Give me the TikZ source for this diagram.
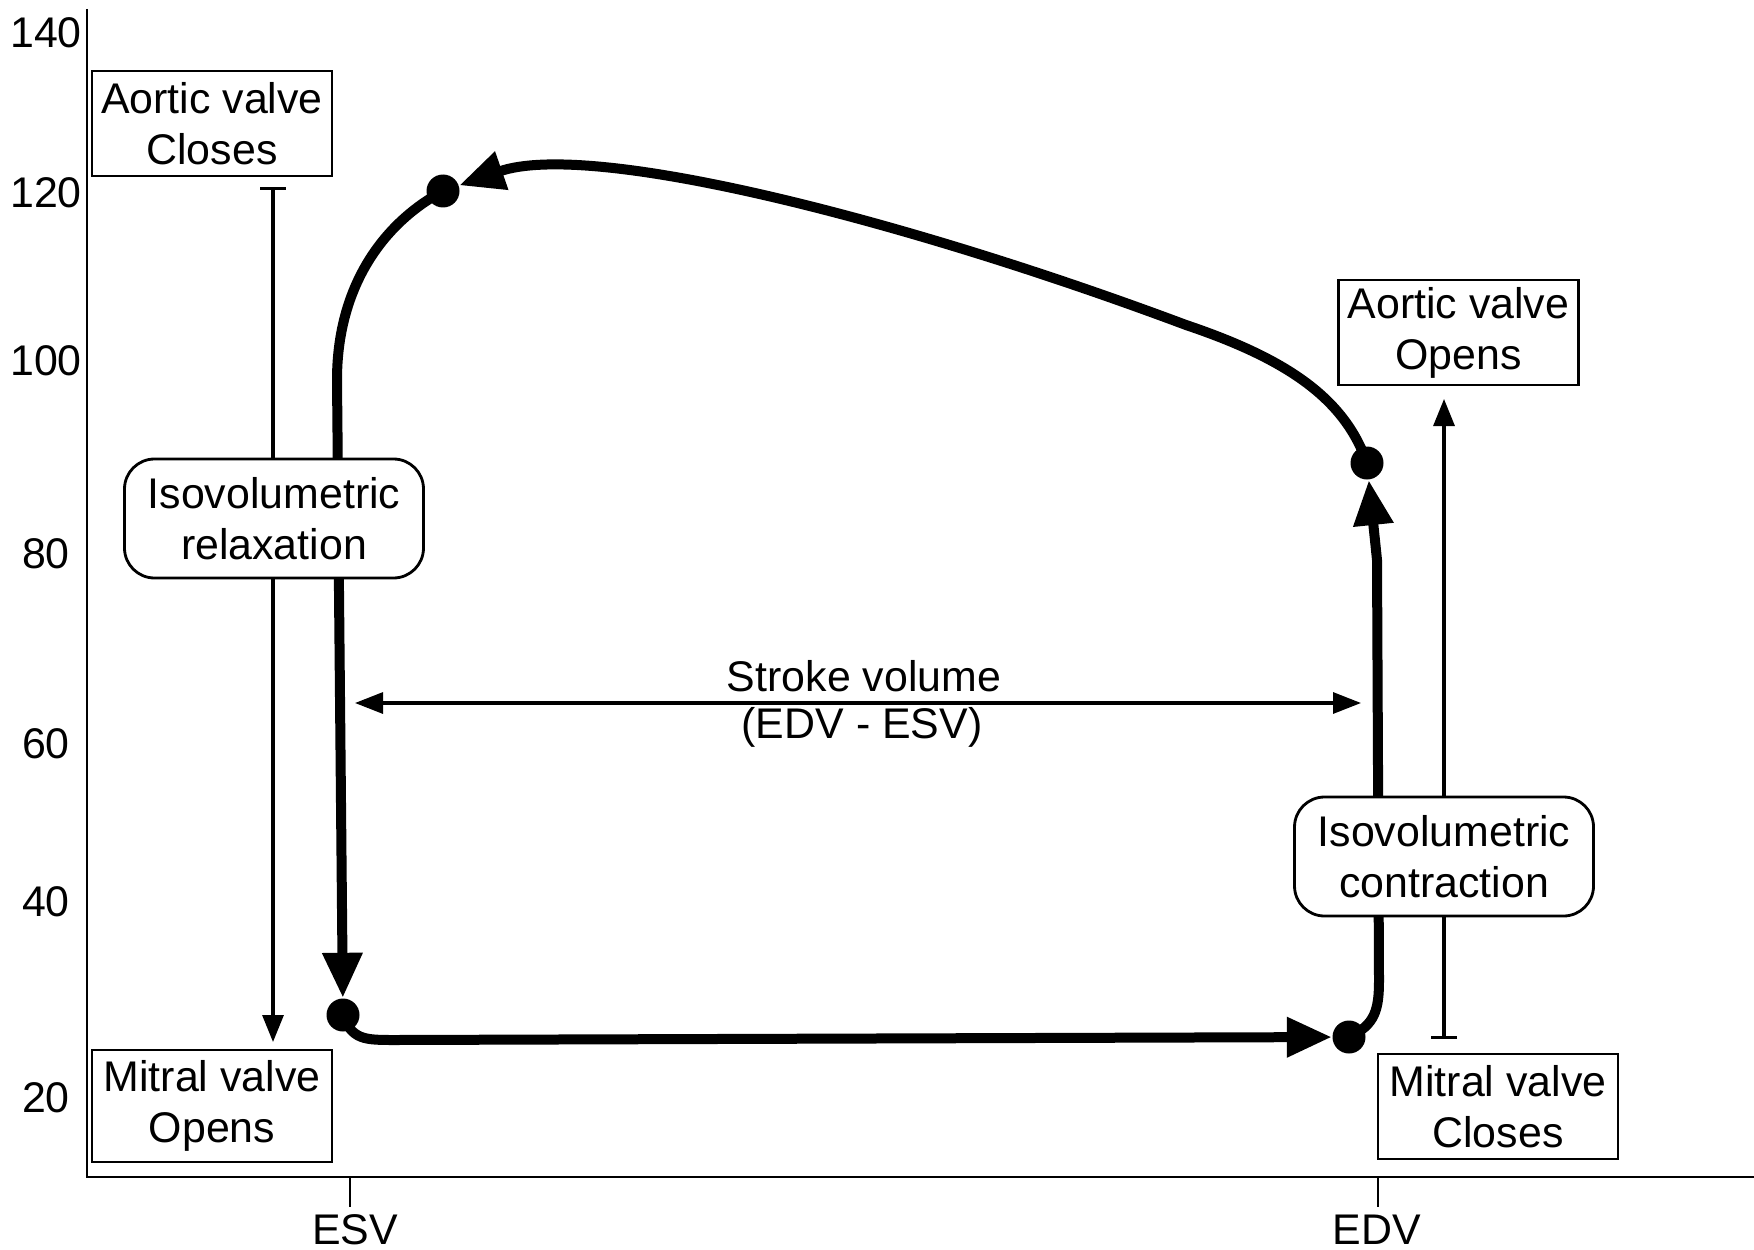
\documentclass[tikz,border=0pt]{standalone}
\usepackage{fontspec}
\setmainfont{Liberation Sans}
\usetikzlibrary{%
  arrows.meta,%
  positioning%
}

\begin{document}
\begin{tikzpicture}
[x=0.1mm, y=-0.1mm, font=\fontsize{12.2}{14.5}\selectfont,
loop/.style={line width=1mm},
bighead/.style={-{Triangle[length=4.5mm,width=3.8mm]}},
corner/.style={circle, fill=black, inner sep=0pt, minimum size=3.3mm},
valve/.style={rectangle, draw, line width=0.6pt, fill=white, align=center, inner sep=0pt, minimum width=24mm, minimum height=10.5mm},
phase/.style={rectangle, draw, line width=0.8pt, fill=white, align=center, inner sep=0pt, rounded corners=3mm, minimum width=29.9mm, minimum height=11.9mm},
valvearrow/.style={line width=0.9pt, {Bar[width=2.6mm]}-{Triangle[length=2.7mm,width=2.1mm]}},
volarrow/.style={line width=0.9pt, {Triangle[length=2.8mm,width=2.1mm]}-{Triangle[length=2.8mm,width=2.1mm]}}]

\useasboundingbox (0,0) rectangle (1754,1249);

\draw[line width=0.6pt] (87,9) -- (87,1177) -- (1754,1177);
\foreach \val/\ypos in {140/33,120/193,100/361,80/554,60/744,40/902,20/1098}
  \node (tick\val) at (46,\ypos) {\val};
\draw[line width=0.6pt] (350,1177) -- (350,1207);
\draw[line width=0.6pt] (1378,1177) -- (1378,1207);
\node (esv) at (355,1230) {ESV};
\node (edv) at (1377,1230) {EDV};

\node[corner] (esvlow) at (343,1015) {};
\node[corner] (edvlow) at (1349,1037) {};
\node[corner] (edvhigh) at (1367,463) {};
\node[corner] (esvhigh) at (443,191) {};

\draw[loop,bighead] (esvlow.center) .. controls (352,1040) and (365,1040) .. (395,1040) -- (edvlow);
\draw[loop,bighead] (edvlow.center) .. controls (1375,1025) and (1379,1010) .. (1379,980) -- (1377,560) -- (edvhigh);
\draw[loop,bighead] (edvhigh.center) .. controls (1345,400) and (1290,360) .. (1186,325)
  .. controls (900,218) and (590,140) .. (esvhigh);
\draw[loop,bighead] (esvhigh.center) .. controls (380,225) and (337,290) .. (337,380) -- (esvlow);

\coordinate (closetee) at (273,187);
\coordinate (opentip) at (273,1042);
\coordinate (shuttee) at (1444,1039);
\coordinate (ejecttip) at (1444,399);
\draw[valvearrow] (closetee) -- (opentip);
\draw[valvearrow] (shuttee) -- (ejecttip);

\coordinate (svleft) at (355,703);
\coordinate (svright) at (1361,703);
\draw[volarrow] (svleft) -- (svright);
\node (svtop) at (864,676) {Stroke volume};
\node (svbot) at (862,727) {(EDV - ESV)};

\node[valve] (avc) at (212,123.5) {Aortic valve\\Closes};
\node[valve, minimum height=11.2mm] (mvo) at (212,1106) {Mitral valve\\Opens};
\node[valve] (avo) at (1458.5,332.5) {Aortic valve\\Opens};
\node[valve] (mvc) at (1498,1106.5) {Mitral valve\\Closes};
\node[phase] (relax) at (274,518.5) {Isovolumetric\\relaxation};
\node[phase] (contract) at (1444,856.5) {Isovolumetric\\contraction};
\end{tikzpicture}
\end{document}
